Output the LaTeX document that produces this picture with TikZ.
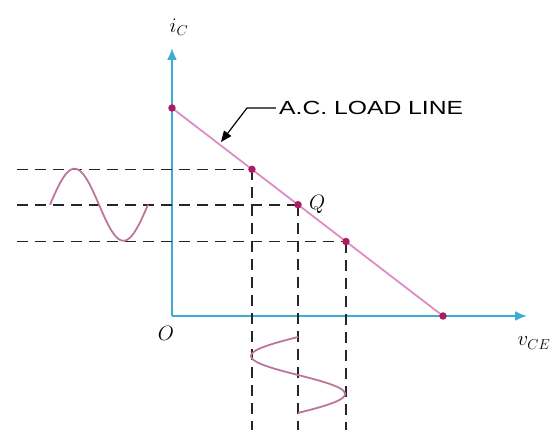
\documentclass[tikz,border=0pt]{standalone}
\usepackage{fontspec}
\newfontfamily\tagfont[FakeStretch=1.3]{Liberation Sans}
\usetikzlibrary{arrows.meta,positioning}
\definecolor{axisblue}{RGB}{60,172,212}
\definecolor{loadpink}{RGB}{222,140,195}
\definecolor{dotred}{RGB}{172,28,98}
\definecolor{wavepink}{RGB}{188,118,158}

\begin{document}
\begin{tikzpicture}[x=1pt, y=1pt, >=Stealth,
  axis/.style={draw=axisblue, line width=2.2pt, -{Latex[length=12pt,width=10pt]}},
  load/.style={draw=loadpink, line width=1.8pt},
  guide/.style={draw=black!85, line width=1.6pt, dash pattern=on 11pt off 7pt},
  wave/.style={draw=wavepink, line width=1.8pt},
  pt/.style={circle, fill=dotred, inner sep=0pt, minimum size=7.5pt},
  lab/.style={font=\huge, inner sep=1pt}]
\useasboundingbox (-172,-114) rectangle (383,316);
% axes
\coordinate (O) at (0,0);
\coordinate (ytop) at (0,268);
\coordinate (xend) at (355,0);
\coordinate (lft) at (-155,0);
\coordinate (btm) at (0,-114);
\draw[axis] (O) -- (ytop);
\draw[axis] (O) -- (xend);
% load line and operating points
\coordinate (vtop) at (0,208);
\coordinate (vbot) at (271,0);
\draw[load] (vtop) -- coordinate[pos=0.295] (pa) coordinate[pos=0.465] (pq)
  coordinate[pos=0.642] (pb) (vbot);
\foreach \p in {pa,pq,pb} {
  \draw[guide] (\p -| lft) -- (\p);
  \draw[guide] (\p) -- (\p |- btm);
}
\foreach \p in {vtop,pa,pq,pb,vbot}
  \node[pt] (d\p) at (\p) {};
% input and output swings
\coordinate (wl) at (-122,0);
\coordinate (wt) at (0,-21);
\begin{scope}[shift={(pq -| wl)}]
  \draw[wave] plot[domain=0:360, samples=73, smooth] ({\x/360*98}, {36*sin(\x)});
\end{scope}
\begin{scope}[shift={(pq |- wt)}]
  \draw[wave] plot[domain=0:360, samples=73, smooth] ({-47*sin(\x)}, {-\x/360*76});
\end{scope}
% labels
\node[anchor=west, inner sep=3pt, font=\tagfont\fontsize{19}{23}\selectfont] (acl) at (104,208) {A.C. LOAD LINE};
\coordinate (bend) at (75,208);
\coordinate (tip) at (49,174);
\draw[line width=1.2pt, -{Triangle[length=11pt,width=9pt]}] (acl.west) -- (bend) -- (tip);
\node[lab] (ic) at (7,289) {$i_C$};
\node[lab] (o) at (-6,-17) {$O$};
\node[lab] (vce) at (362,-27) {$v_{CE}$};
\node[lab, right=10pt of pq] (q) {$Q$};
\end{tikzpicture}
\end{document}
